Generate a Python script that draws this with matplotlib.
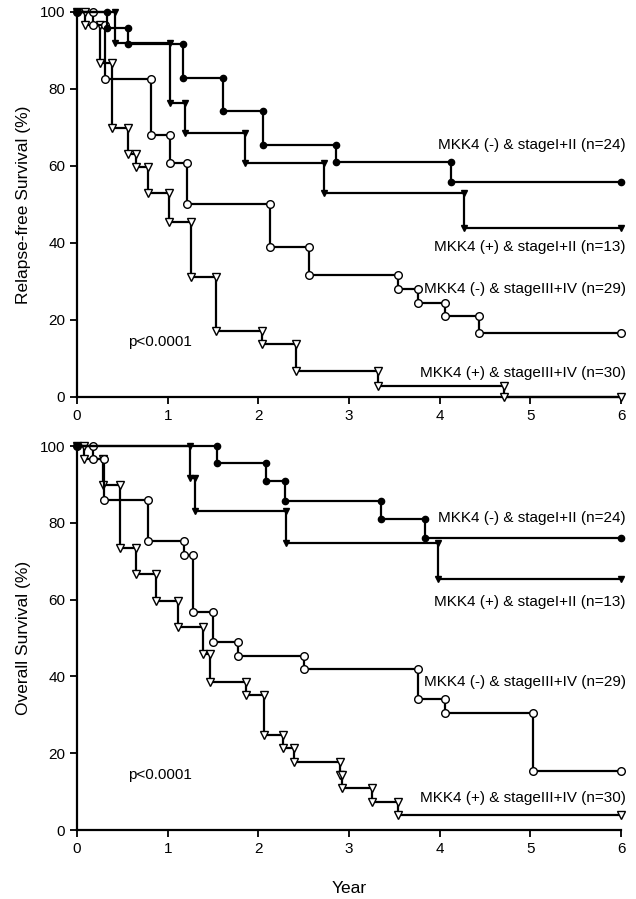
import matplotlib
matplotlib.use("Agg")
import matplotlib.pyplot as plt

plt.rcParams['font.family'] = ['Liberation Sans', 'DejaVu Sans']

# ---------------- data ----------------
years = [0, 1, 2, 3, 4, 5, 6]
pct_ticks = [0, 20, 40, 60, 80, 100]
end_time = 6.0

labels = ["MKK4 (-) & stageI+II (n=24)",
          "MKK4 (+) & stageI+II (n=13)",
          "MKK4 (-) & stageIII+IV (n=29)",
          "MKK4 (+) & stageIII+IV (n=30)"]

# Relapse-free survival
rfs_a_t = [0.33, 0.56, 1.17, 1.61, 2.05, 2.86, 4.13]
rfs_a_s = [95.8, 91.7, 82.8, 74.3, 65.5, 61.0, 55.8]
rfs_b_t = [0.42, 1.03, 1.19, 1.85, 2.72, 4.27]
rfs_b_s = [92.0, 76.4, 68.6, 60.8, 53.0, 43.9]
rfs_c_t = [0.18, 0.31, 0.82, 1.03, 1.21, 2.13, 2.56, 3.54, 3.76, 4.06, 4.43]
rfs_c_s = [96.6, 82.6, 68.0, 60.8, 50.1, 39.0, 31.7, 28.1, 24.4, 21.0, 16.6]
rfs_d_t = [0.09, 0.25, 0.39, 0.56, 0.65, 0.78, 1.01, 1.26, 1.53, 2.04, 2.41, 3.32, 4.71]
rfs_d_s = [96.7, 86.7, 69.9, 63.1, 59.7, 53.0, 45.5, 31.2, 17.1, 13.8, 6.8, 2.9, 0.0]

# Overall survival
os_a_t = [1.54, 2.09, 2.29, 3.35, 3.84]
os_a_s = [95.6, 90.8, 85.7, 81.0, 76.0]
os_b_t = [1.25, 1.30, 2.30, 3.98]
os_b_s = [91.7, 83.1, 74.7, 65.4]
os_c_t = [0.18, 0.30, 0.78, 1.18, 1.28, 1.50, 1.78, 2.50, 3.76, 4.06, 5.03]
os_c_s = [96.6, 86.0, 75.3, 71.6, 56.8, 49.0, 45.3, 41.9, 34.1, 30.5, 15.4]
os_d_t = [0.08, 0.29, 0.47, 0.65, 0.87, 1.11, 1.39, 1.47, 1.86, 2.06, 2.27, 2.39,
          2.90, 2.92, 3.25, 3.54]
os_d_s = [96.6, 89.8, 73.4, 66.7, 59.6, 52.9, 45.8, 38.5, 35.2, 24.7, 21.4, 17.7,
          14.3, 10.9, 7.3, 3.9]

# label positions (data coords)
rfs_label_y = [65.5, 39.0, 28.1, 6.2]
os_label_y = [81.3, 59.4, 38.5, 8.3]
p_text = "p<0.0001"

styles = [dict(marker='o', mfc='black', mec='black', ms=4.5),
          dict(marker='v', mfc='black', mec='black', ms=4.5),
          dict(marker='o', mfc='white', mec='black', ms=5.5),
          dict(marker='v', mfc='white', mec='black', ms=5.5)]


def step_path(times, surv, end):
    xs, ys = [0.0], [100.0]
    prev = 100.0
    for t, s in zip(times, surv):
        xs += [t, t]
        ys += [prev, s]
        prev = s
    xs.append(end)
    ys.append(prev)
    return xs, ys


fig = plt.figure(figsize=(6.36, 8.99), dpi=100)
ax1 = fig.add_axes([77/636, 1-397/899, 544/636, 385/899])
ax2 = fig.add_axes([77/636, 1-830/899, 544/636, 384/899])

panels = [
    (ax1, [(rfs_a_t, rfs_a_s), (rfs_b_t, rfs_b_s), (rfs_c_t, rfs_c_s), (rfs_d_t, rfs_d_s)],
     rfs_label_y, "Relapse-free Survival (%)"),
    (ax2, [(os_a_t, os_a_s), (os_b_t, os_b_s), (os_c_t, os_c_s), (os_d_t, os_d_s)],
     os_label_y, "Overall Survival (%)"),
]

for ax, curves, ly, ylab in panels:
    for (t, s), st in zip(curves[::-1], styles[::-1]):
        xs, ys = step_path(t, s, end_time)
        ax.plot(xs, ys, color='black', lw=1.6, clip_on=False, zorder=3, **st)
    for lab, yv in zip(labels, ly):
        ax.text(6.05, yv, lab, ha='right', va='center', fontsize=11)
    ax.text(0.56, 14.2, p_text, ha='left', va='center', fontsize=11)
    ax.set_xlim(0, 6)
    ax.set_ylim(0, 100)
    ax.set_xticks(years)
    ax.set_yticks(pct_ticks)
    ax.set_xticklabels([str(v) for v in years])
    ax.set_yticklabels([str(v) for v in pct_ticks])
    ax.spines['top'].set_visible(False)
    ax.spines['right'].set_visible(False)
    for sp in ('left', 'bottom'):
        ax.spines[sp].set_linewidth(1.6)
    ax.tick_params(direction='out', length=5, width=1.3, labelsize=11)
    ax.set_ylabel(ylab, fontsize=12.5, labelpad=6)

ax2.set_xlabel("Year", fontsize=12.5, labelpad=18)

fig.savefig("out.png", dpi=100)
